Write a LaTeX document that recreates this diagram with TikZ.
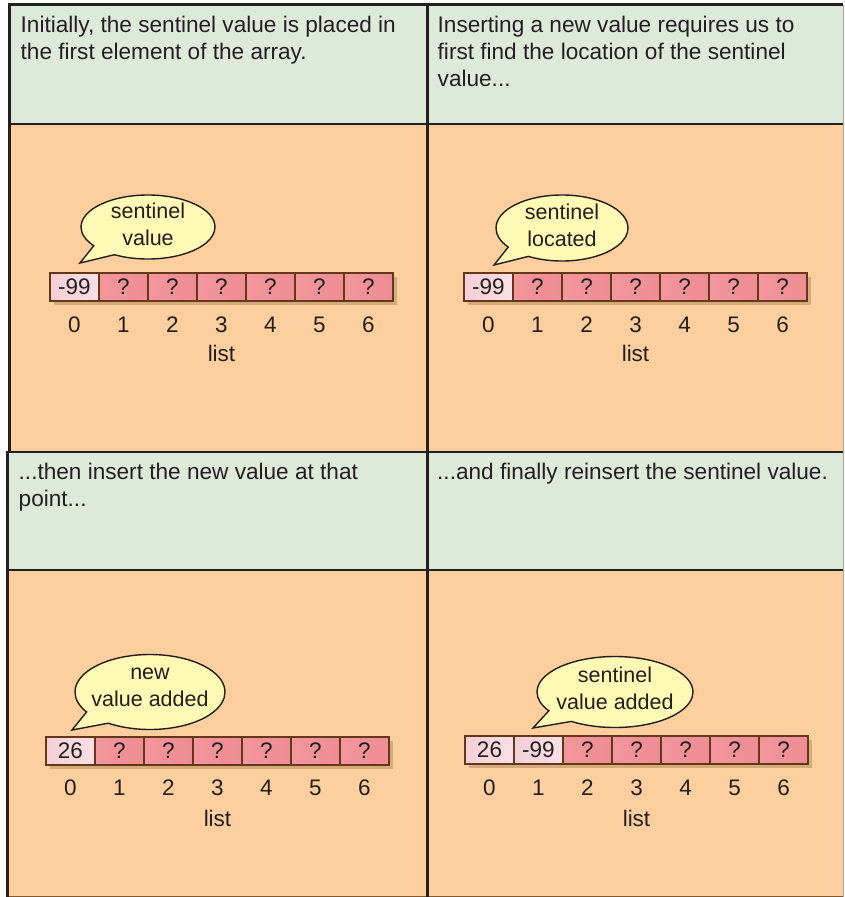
\documentclass[tikz,border=0pt]{standalone}
\usepackage{fontspec}
\setmainfont{Liberation Sans}
\usetikzlibrary{shapes.callouts,shadows}
\definecolor{hdr}{HTML}{DDEADA}
\definecolor{body}{HTML}{FDCF9E}
\definecolor{ink}{HTML}{231F20}
\definecolor{cellred}{HTML}{F2979C}
\definecolor{cellredd}{HTML}{EE8C92}
\definecolor{cellpink}{HTML}{F4CFD6}
\definecolor{cellpinkl}{HTML}{F8E0E6}
\definecolor{cellbrd}{HTML}{643719}
\definecolor{bub}{HTML}{FEF9B4}
\tikzset{
  hdrtext/.style={anchor=north west,align=left,inner sep=0pt,text=ink,font=\fontsize{22.6}{27}\selectfont},
  cellbase/.style={draw=cellbrd,line width=1.6pt,minimum width=49pt,minimum height=28pt,inner sep=0pt,text=ink,
    font=\fontsize{22.5}{24}\selectfont,drop shadow={shadow xshift=4pt,shadow yshift=-4pt,opacity=0.25,fill=brown!50!black}},
  cellq/.style={cellbase,left color=cellred,right color=cellredd},
  cellv/.style={cellbase,left color=cellpink,right color=cellpinkl},
  idx/.style={text=ink,inner sep=0pt,font=\fontsize{22.5}{24}\selectfont},
  bubble/.style={ellipse callout,draw=ink,line width=1.4pt,fill=bub,inner sep=0pt,callout pointer arc=24},
  bubtext/.style={align=center,text=ink,inner sep=0pt,font=\fontsize{21.5}{27}\selectfont},
  thickln/.style={draw=ink,line width=3pt},
  thinln/.style={draw=ink,line width=1.2pt}
}
\begin{document}
\begin{tikzpicture}[x=1pt,y=-1pt]
\useasboundingbox (0,0) rectangle (844,897);
% panels
\fill[hdr] (10,5) rectangle (427,124);
\fill[body] (10,124) rectangle (427,451);
\fill[hdr] (427,5) rectangle (843,124);
\fill[body] (427,124) rectangle (843,451);
\fill[hdr] (8,452) rectangle (428,570);
\fill[body] (8,570) rectangle (428,897);
\fill[hdr] (428,452) rectangle (843,570);
\fill[body] (428,570) rectangle (843,897);
\draw[thinln] (10,124) -- (843,124);
\draw[thinln] (8,570) -- (843,570);
\draw[draw=gray!70,line width=1pt] (843,5) -- (843,897);
\draw[draw=brown!70!black,line width=1pt] (8,896.5) -- (843,896.5);
\draw[thickln] (8,4.5) -- (843,4.5);
\draw[thickln] (9.5,3) -- (9.5,452);
\draw[thickln] (7.5,451) -- (7.5,897);
\draw[thickln] (427.5,3) -- (427.5,897);
\draw[draw=ink,line width=2.5pt] (6,452) -- (843,452);
% header texts
\node[hdrtext] (t1) at (20.5,16) {Initially, the sentinel value is placed in\\the first element of the array.};
\node[hdrtext] (t2) at (437.5,16) {Inserting a new value requires us to\\first find the location of the sentinel\\value...};
\node[hdrtext] (t3) at (18.5,463) {...then insert the new value at that\\point...};
\node[hdrtext] (t4) at (437,463) {...and finally reinsert the sentinel value.};
% arrays
\foreach \i/\v/\s in {0/-99/cellv,1/?/cellq,2/?/cellq,3/?/cellq,4/?/cellq,5/?/cellq,6/?/cellq}{
  \node[\s] (a\i) at ({50+49*\i+24.5},287) {\v};
  \node[idx] (ai\i) at ([yshift=-38pt]a\i.center) {\i};
}
\node[idx] (al) at (221.5,353) {list};
\foreach \i/\v/\s in {0/-99/cellv,1/?/cellq,2/?/cellq,3/?/cellq,4/?/cellq,5/?/cellq,6/?/cellq}{
  \node[\s] (b\i) at ({464+49*\i+24.5},287) {\v};
  \node[idx] (bi\i) at ([yshift=-38pt]b\i.center) {\i};
}
\node[idx] (bl) at (635.5,353) {list};
\foreach \i/\v/\s in {0/26/cellv,1/?/cellq,2/?/cellq,3/?/cellq,4/?/cellq,5/?/cellq,6/?/cellq}{
  \node[\s] (c\i) at ({46+49*\i+24.5},751) {\v};
  \node[idx] (ci\i) at ([yshift=-37pt]c\i.center) {\i};
}
\node[idx] (cl) at (217.5,818) {list};
\foreach \i/\v/\s in {0/26/cellv,1/-99/cellv,2/?/cellq,3/?/cellq,4/?/cellq,5/?/cellq,6/?/cellq}{
  \node[\s] (d\i) at ({465+49*\i+24.5},750) {\v};
  \node[idx] (di\i) at ([yshift=-38pt]d\i.center) {\i};
}
\node[idx] (dl) at (636.5,818) {list};
% callouts
\coordinate (p1) at (80,263);
\coordinate (p2) at (494,265);
\coordinate (p3) at (72,730);
\coordinate (p4) at (533,728);
\node[bubble,minimum width=134pt,minimum height=64pt,callout absolute pointer={(p1)}] (k1) at (148,227) {};
\node[bubtext] (k1t) at ([yshift=2.5pt]k1.center) {sentinel\\value};
\node[bubble,minimum width=132pt,minimum height=66pt,callout absolute pointer={(p2)}] (k2) at (562,228) {};
\node[bubtext] (k2t) at ([yshift=2.5pt]k2.center) {sentinel\\located};
\node[bubble,minimum width=150pt,minimum height=75pt,callout absolute pointer={(p3)}] (k3) at (150,692) {};
\node[bubtext] (k3t) at ([yshift=5pt]k3.center) {new\\value added};
\node[bubble,minimum width=156pt,minimum height=71pt,callout absolute pointer={(p4)}] (k4) at (615,692) {};
\node[bubtext] (k4t) at ([yshift=4pt]k4.center) {sentinel\\value added};
\end{tikzpicture}
\end{document}
